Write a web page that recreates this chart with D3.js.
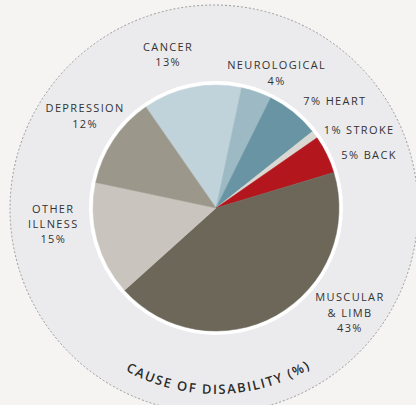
<!doctype html>
<html>
  <head>
    <meta charset="utf-8">
    <script src="https://d3js.org/d3.v7.min.js"></script>
    <style type='text/css'>
      body{
        margin: 0;
        background: #f5f4f2;
      }
      text.lbl{
        font-family: "Open Sans", sans-serif;
        font-size: 11px;
        letter-spacing: 1.35px;
        fill: #333;
      }
      text.title{
        font-family: "Open Sans", sans-serif;
        font-weight: 600;
        font-size: 13px;
        letter-spacing: 1.7px;
        fill: #2b2b2b;
      }
    </style>
  </head>
  <body>
    <svg></svg>
    <script type="text/javascript">
      // data
      var categories = ['CANCER','NEUROLOGICAL','HEART','STROKE','BACK','MUSCULAR\n& LIMB','OTHER\nILLNESS','DEPRESSION'];
      var values = [13,4,7,1,5,43,15,12];
      var colors = ['#c0d3da','#9dbac4','#6894a3','#d9d8d3','#b4161e','#6d675a','#c9c5be','#9c978b'];
      // small slices get "7% HEART" on one line
      var inline = [false,false,true,true,true,false,false,false];
      var title = 'CAUSE OF DISABILITY (%)';

      // layout
      var w = 416, h = 405;
      var cx = 216, cy = 208, r = 123;
      // label anchors: angle (deg, clockwise from 12 o'clock) and radius
      var labelAngle = [-17.3,24.2,48,61.4,70.9,128,264.4,305.1];
      var labelRadius = [161,148,160,163,162,170,163.5,160];
      var lh = 15.4;

      var rad = Math.PI/180;
      var svg = d3.select('svg').attr('width',w).attr('height',h);
      var g = svg.append('g').attr('transform','translate('+cx+','+cy+')');

      // outer dashed ring
      g.append('circle').attr('cx',-2).attr('cy',1).attr('r',204)
        .attr('fill','#ebebed').attr('stroke','#9a9a9a')
        .attr('stroke-width',1).attr('stroke-dasharray','2,2');
      // white border behind pie
      g.append('circle').attr('r',r+4).attr('fill','#fff');

      var pie = d3.pie().sort(null)
        .startAngle(-34.8*rad).endAngle(-34.8*rad+2*Math.PI);
      var arc = d3.arc().innerRadius(0).outerRadius(r);
      var slices = pie(values);

      g.selectAll('path.slice').data(slices).enter()
        .append('path').attr('class','slice')
        .attr('d',arc)
        .attr('fill',(d,i)=>{return colors[i];})
        .attr('stroke',(d,i)=>{return colors[i];})
        .attr('stroke-width',0.5);

      // labels
      g.selectAll('text.lbl').data(categories).enter()
        .append('text').attr('class','lbl')
        .attr('text-anchor','middle')
        .each(function(name,i){
          var p = d3.pointRadial(labelAngle[i]*rad,labelRadius[i]);
          var lines = inline[i] ? [values[i]+'% '+name] : name.split('\n').concat([values[i]+'%']);
          var t = d3.select(this);
          lines.forEach((s,k)=>{
            t.append('tspan').attr('x',p[0])
              .attr('y',p[1]+(k-(lines.length-1)/2)*lh+4)
              .text(s);
          });
        });

      // curved title along the bottom of the ring
      var tr = 186;
      svg.append('defs').append('path').attr('id','titlePath')
        .attr('d','M'+(cx-tr)+','+cy+' A'+tr+','+tr+' 0 0 0 '+(cx+tr)+','+cy);
      svg.append('text').attr('class','title')
        .append('textPath').attr('href','#titlePath')
        .attr('startOffset','50.5%').attr('text-anchor','middle')
        .text(title);
    </script>
  </body>
</html>
